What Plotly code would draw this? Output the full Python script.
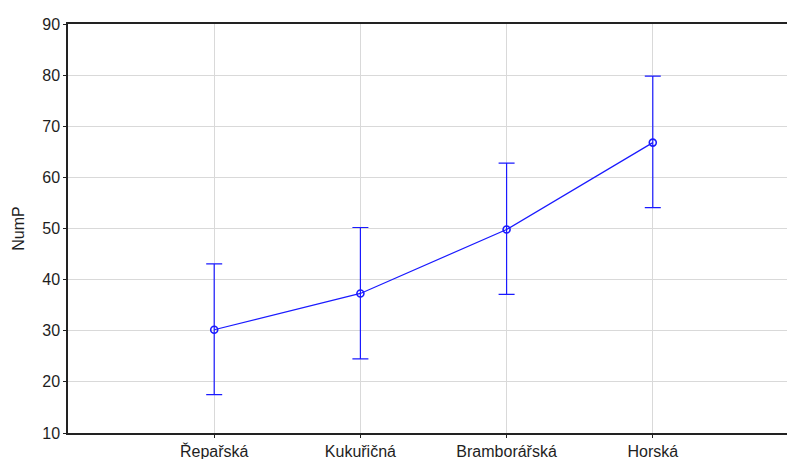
import plotly.graph_objects as go

categories = ["Řepařská", "Kukuřičná", "Bramborářská", "Horská"]
means = [30.2, 37.3, 49.8, 66.8]
upper = [43.1, 50.2, 62.8, 79.8]
lower = [17.5, 24.5, 37.1, 54.1]

err_plus = [u - m for u, m in zip(upper, means)]
err_minus = [m - l for m, l in zip(means, lower)]

blue = "#1a1aff"
txt = "#1e1e1e"

fig = go.Figure()
fig.add_trace(go.Scatter(
    x=categories, y=means, mode="lines+markers",
    line=dict(color=blue, width=1.2),
    marker=dict(symbol="circle-open", size=7, color=blue, line=dict(width=1.6, color=blue)),
    error_y=dict(type="data", symmetric=False, array=err_plus, arrayminus=err_minus,
                 color=blue, thickness=1.2, width=8),
    showlegend=False,
))

fig.update_layout(
    width=787, height=459,
    margin=dict(l=68, r=0, t=24, b=26),
    paper_bgcolor="white", plot_bgcolor="white",
    font=dict(family="Liberation Sans, Arial, sans-serif", size=16, color=txt),
)
fig.update_xaxes(
    type="category", range=[-1, 3.918], automargin=False,
    showgrid=True, gridcolor="#d9d9d9", gridwidth=1,
    showline=True, linecolor="#222", linewidth=1.5, mirror=True,
    ticks="outside", ticklen=3, tickcolor="#222",
    tickfont=dict(size=16, color=txt),
)
fig.update_yaxes(
    range=[10, 90], dtick=10, automargin=False,
    showgrid=True, gridcolor="#d9d9d9", gridwidth=1,
    showline=True, linecolor="#222", linewidth=1.5,
    ticks="outside", ticklen=3, tickcolor="#222",
    tickfont=dict(size=16, color=txt),
    title=dict(text="NumP", font=dict(size=16, color=txt), standoff=14),
    zeroline=False,
)

fig.write_html(
    "out.html",
    config={"responsive": False, "displayModeBar": False},
    post_script="document.body.style.margin='0';document.body.style.overflow='hidden';",
)
